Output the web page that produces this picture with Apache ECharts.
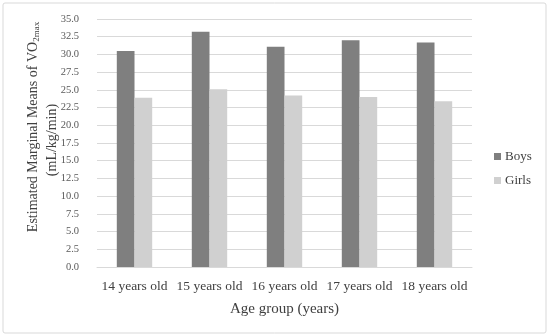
<!DOCTYPE html>
<html>
<head>
<meta charset="utf-8">
<script src="https://cdn.jsdelivr.net/npm/echarts@6/dist/echarts.min.js"></script>
<style>html,body{margin:0;padding:0;background:#fff;}#c{width:550px;height:336px;}</style>
</head>
<body>
<div id="c"></div>
<script>
const categories = ['14 years old', '15 years old', '16 years old', '17 years old', '18 years old'];
const boys = [30.5, 33.2, 31.1, 32.0, 31.7];
const girls = [23.9, 25.1, 24.2, 24.0, 23.4];
const seriesNames = ['Boys', 'Girls'];
const xTitle = 'Age group (years)';

const FONT = '"Liberation Serif", "DejaVu Serif", serif';
const chart = echarts.init(document.getElementById('c'), null, {renderer: 'canvas'});
chart.setOption({
  animation: false,
  backgroundColor: '#fff',
  grid: {left: 97, right: 78, top: 19, bottom: 69, containLabel: false},
  legend: {
    orient: 'vertical', left: 489, top: 145, itemGap: 11,
    icon: 'rect', itemWidth: 7, itemHeight: 7,
    textStyle: {fontFamily: FONT, fontSize: 13, color: '#404040', padding: [0, 0, 0, -1]},
    data: seriesNames
  },
  xAxis: {
    type: 'category', data: categories,
    axisLine: {show: true, lineStyle: {color: '#d9d9d9', width: 1}},
    axisTick: {show: false},
    axisLabel: {fontFamily: FONT, fontSize: 13.5, color: '#404040', margin: 12, interval: 0, hideOverlap: false},
    name: xTitle, nameLocation: 'middle', nameGap: 35,
    nameTextStyle: {fontFamily: FONT, fontSize: 15, color: '#404040'}
  },
  yAxis: {
    type: 'value', min: 0, max: 35, interval: 2.5,
    axisLine: {show: false}, axisTick: {show: false},
    splitLine: {lineStyle: {color: '#d9d9d9', width: 1}},
    axisLabel: {fontFamily: FONT, fontSize: 10.5, color: '#595959', margin: 18,
      formatter: v => v.toFixed(1)}
  },
  graphic: [
    {type: 'rect', shape: {x: 3, y: 3, width: 543, height: 330, r: 2}, style: {fill: null, stroke: '#d9d9d9', lineWidth: 1}, z: -1},
    {type: 'text', x: 33, y: 127, rotation: Math.PI / 2,
      style: {text: '{a|Estimated Marginal Means of VO}{s|2max}', align: 'center', verticalAlign: 'middle',
        rich: {a: {fontFamily: FONT, fontSize: 14, fill: '#404040', lineHeight: 18},
               s: {fontFamily: FONT, fontSize: 9, fill: '#404040', padding: [7, 0, 0, 0]}}}},
    {type: 'text', x: 52, y: 140, rotation: Math.PI / 2,
      style: {text: '(mL/kg/min)', align: 'center', verticalAlign: 'middle',
        fontFamily: FONT, fontSize: 14, fill: '#404040'}}
  ],
  series: [
    {name: seriesNames[0], type: 'bar', data: boys, barWidth: 17.7, barGap: '0%',
      itemStyle: {color: '#7f7f7f'}},
    {name: seriesNames[1], type: 'bar', data: girls, barWidth: 17.7,
      itemStyle: {color: '#d0d0d0'}}
  ]
});
</script>
</body>
</html>
